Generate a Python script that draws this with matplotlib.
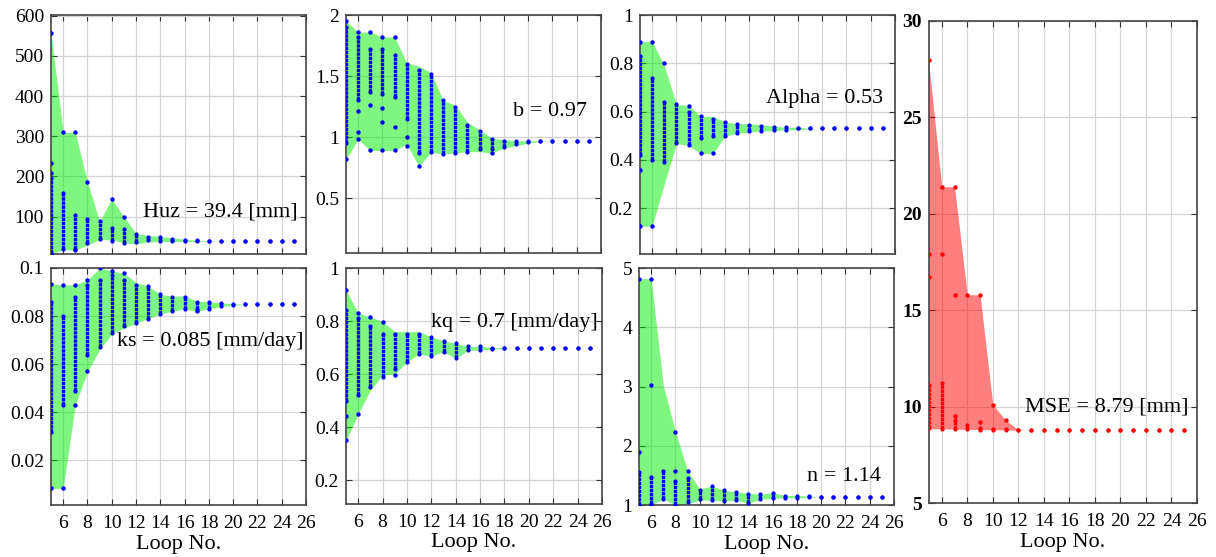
import numpy as np
import matplotlib.pyplot as plt

plt.rcParams['font.family'] = ['Liberation Serif', 'DejaVu Serif']

loops = list(range(5, 26))

# Huz [mm]
huz_hi = [558, 310, 310, 187, 88, 144, 100, 58, 53, 51, 47, 44, 41, 40, 40, 39.4,
          39.4, 39.4, 39.4, 39.4, 39.4]
huz_lo = [8, 17, 17, 29, 43, 42, 35, 32, 37, 38, 38, 38, 38, 39, 39, 39.4,
          39.4, 39.4, 39.4, 39.4, 39.4]
huz_col_hi = [195, 160, 105, 93, 88, 72, 68, 58, 50, 49, 44, 42, 41, 40, 39.4, 39.4,
              39.4, 39.4, 39.4, 39.4, 39.4]
huz_col_lo = [10, 20, 20, 35, 45, 40, 35, 36, 42, 40, 40, 39, 39, 39.4, 39.4, 39.4,
              39.4, 39.4, 39.4, 39.4, 39.4]
huz_px = [5, 5, 5, 5, 6, 7, 7, 8, 10, 11]
huz_py = [558, 233, 208, 8, 310, 310, 17, 187, 144, 100]

# b
b_hi = [1.95, 1.86, 1.86, 1.82, 1.82, 1.61, 1.58, 1.53, 1.30, 1.26, 1.12, 1.06, 0.99,
        0.98, 0.97, 0.97, 0.97, 0.97, 0.97, 0.97, 0.97]
b_lo = [0.82, 0.98, 0.89, 0.89, 0.89, 0.94, 0.76, 0.875, 0.86, 0.87, 0.88, 0.88, 0.87,
        0.91, 0.93, 0.95, 0.965, 0.97, 0.97, 0.97, 0.97]
b_col_hi = [1.90, 1.82, 1.72, 1.72, 1.67, 1.60, 1.55, 1.52, 1.30, 1.25, 1.10, 1.05, 0.98,
            0.97, 0.97, 0.97, 0.97, 0.97, 0.97, 0.97, 0.97]
b_col_lo = [0.95, 1.30, 1.37, 1.35, 1.33, 1.15, 0.87, 0.88, 0.86, 0.87, 0.88, 0.90, 0.90,
            0.92, 0.94, 0.96, 0.97, 0.97, 0.97, 0.97, 0.97]
b_px = [5, 5, 6, 6, 6, 6, 7, 7, 7, 8, 8, 8, 8, 9, 9, 9, 10, 10, 11, 17]
b_py = [1.95, 0.82, 1.86, 1.21, 1.04, 0.98, 1.86, 1.26, 0.89, 1.82, 1.24, 1.12, 0.89,
        1.82, 1.08, 0.89, 1.0, 0.93, 0.76, 0.87]

# Alpha
alpha_hi = [0.89, 0.89, 0.79, 0.63, 0.625, 0.58, 0.58, 0.557, 0.55, 0.55, 0.545, 0.54,
            0.535, 0.535, 0.53, 0.53, 0.53, 0.53, 0.53, 0.53, 0.53]
alpha_lo = [0.125, 0.125, 0.30, 0.467, 0.46, 0.426, 0.426, 0.498, 0.51, 0.515, 0.52, 0.52,
            0.525, 0.525, 0.528, 0.53, 0.53, 0.53, 0.53, 0.53, 0.53]
alpha_col_hi = [0.83, 0.74, 0.64, 0.63, 0.60, 0.58, 0.57, 0.557, 0.55, 0.545, 0.54, 0.535,
                0.535, 0.53, 0.53, 0.53, 0.53, 0.53, 0.53, 0.53, 0.53]
alpha_col_lo = [0.42, 0.40, 0.39, 0.47, 0.46, 0.49, 0.50, 0.50, 0.51, 0.52, 0.52, 0.525,
                0.525, 0.53, 0.53, 0.53, 0.53, 0.53, 0.53, 0.53, 0.53]
alpha_px = [5, 5, 5, 6, 6, 7, 9, 10, 11]
alpha_py = [0.89, 0.36, 0.125, 0.89, 0.125, 0.80, 0.625, 0.43, 0.43]

# ks [mm/day]
ks_hi = [0.0935, 0.093, 0.093, 0.095, 0.0999, 0.0988, 0.0978, 0.094, 0.0925, 0.089, 0.0883,
         0.0885, 0.0862, 0.086, 0.0855, 0.0852, 0.085, 0.085, 0.085, 0.085, 0.085]
ks_lo = [0.0084, 0.0084, 0.043, 0.057, 0.066, 0.0726, 0.075, 0.077, 0.079, 0.081, 0.082,
         0.083, 0.082, 0.083, 0.084, 0.0845, 0.085, 0.085, 0.085, 0.085, 0.085]
ks_col_hi = [0.086, 0.080, 0.088, 0.093, 0.095, 0.097, 0.095, 0.093, 0.0925, 0.089, 0.088,
             0.088, 0.086, 0.086, 0.0855, 0.085, 0.085, 0.085, 0.085, 0.085, 0.085]
ks_col_lo = [0.032, 0.043, 0.049, 0.064, 0.067, 0.073, 0.076, 0.077, 0.079, 0.081, 0.082,
             0.083, 0.083, 0.083, 0.084, 0.0845, 0.085, 0.085, 0.085, 0.085, 0.085]
ks_px = [5, 5, 6, 6, 7, 7, 8, 8, 9, 10, 11, 17]
ks_py = [0.0935, 0.0084, 0.093, 0.0084, 0.093, 0.043, 0.095, 0.057, 0.0999, 0.0988,
         0.0978, 0.082]

# kq [mm/day]
kq_hi = [0.917, 0.83, 0.816, 0.797, 0.76, 0.76, 0.76, 0.74, 0.726, 0.716, 0.705, 0.705,
         0.70, 0.70, 0.70, 0.70, 0.70, 0.70, 0.70, 0.70, 0.70]
kq_lo = [0.35, 0.449, 0.54, 0.596, 0.60, 0.647, 0.675, 0.668, 0.684, 0.659, 0.69, 0.69,
         0.694, 0.697, 0.70, 0.70, 0.70, 0.70, 0.70, 0.70, 0.70]
kq_col_hi = [0.84, 0.81, 0.78, 0.75, 0.75, 0.75, 0.75, 0.74, 0.726, 0.716, 0.705, 0.705,
             0.70, 0.70, 0.70, 0.70, 0.70, 0.70, 0.70, 0.70, 0.70]
kq_col_lo = [0.50, 0.52, 0.55, 0.59, 0.62, 0.647, 0.675, 0.668, 0.684, 0.66, 0.69, 0.69,
             0.694, 0.70, 0.70, 0.70, 0.70, 0.70, 0.70, 0.70, 0.70]
kq_px = [5, 5, 5, 6, 6, 7, 8, 9]
kq_py = [0.917, 0.44, 0.35, 0.83, 0.449, 0.816, 0.797, 0.596]

# n
n_hi = [4.82, 4.82, 3.02, 2.24, 1.58, 1.27, 1.32, 1.25, 1.22, 1.20, 1.18, 1.21, 1.16, 1.16,
        1.15, 1.14, 1.14, 1.14, 1.14, 1.14, 1.14]
n_lo = [1.0, 1.0, 1.1, 1.0, 1.02, 1.08, 1.08, 1.07, 1.08, 1.03, 1.10, 1.11, 1.12, 1.12,
        1.13, 1.14, 1.14, 1.14, 1.14, 1.14, 1.14]
n_col_hi = [1.55, 1.48, 1.58, 1.40, 1.45, 1.26, 1.32, 1.25, 1.22, 1.19, 1.18, 1.20, 1.16,
            1.16, 1.15, 1.14, 1.14, 1.14, 1.14, 1.14, 1.14]
n_col_lo = [1.0, 1.02, 1.10, 1.0, 1.05, 1.10, 1.08, 1.07, 1.08, 1.03, 1.10, 1.11, 1.12,
            1.12, 1.13, 1.14, 1.14, 1.14, 1.14, 1.14, 1.14]
n_px = [5, 5, 6, 6, 6, 8, 8, 9]
n_py = [4.82, 1.90, 4.82, 3.02, 1.0, 2.24, 1.58, 1.58]

# MSE [mm]
mse_hi = [27.7, 21.4, 21.4, 15.8, 15.8, 10.1, 9.3, 8.8, 8.79, 8.79, 8.79, 8.79, 8.79, 8.79,
          8.79, 8.79, 8.79, 8.79, 8.79, 8.79, 8.79]
mse_lo = [8.85, 8.85, 8.83, 8.82, 8.80, 8.80, 8.79, 8.78, 8.79, 8.79, 8.79, 8.79, 8.79,
          8.79, 8.79, 8.79, 8.79, 8.79, 8.79, 8.79, 8.79]
mse_col_hi = [11.1, 11.2, 9.3, 9.05, 8.9, 8.85, 8.85, 8.79, 8.79, 8.79, 8.79, 8.79, 8.79,
              8.79, 8.79, 8.79, 8.79, 8.79, 8.79, 8.79, 8.79]
mse_col_lo = [8.88, 8.85, 8.85, 8.85, 8.80, 8.80, 8.80, 8.79, 8.79, 8.79, 8.79, 8.79, 8.79,
              8.79, 8.79, 8.79, 8.79, 8.79, 8.79, 8.79, 8.79]
mse_px = [5, 5, 5, 6, 6, 7, 7, 7, 8, 9, 9, 10, 11]
mse_py = [28.0, 17.9, 16.7, 21.4, 17.9, 21.4, 15.8, 9.5, 15.8, 15.8, 9.2, 10.1, 9.3]

W, H = 1216, 557


def box(x0, y0, x1, y1):
    # pixel box -> figure fraction
    return [x0 / W, 1 - y1 / H, (x1 - x0) / W, (y1 - y0) / H]


def draw_panel(ax, lo, hi, col_lo, col_hi, px, py, label, lxy, ylim, yticks, yticklabels,
               fill='#00ee00', dot='#0000ff', xlabels=False, bold=False):
    ax.fill_between(loops, lo, hi, color=fill, alpha=0.5, lw=0, zorder=1)
    # dense stacks of points drawn as dotted columns
    ax.vlines(loops, col_lo, col_hi, colors=dot, lw=2.4, linestyles=[(0, (1.0, 0.22))],
              capstyle='butt', zorder=3)
    ax.scatter(loops, col_hi, s=9, color=dot, lw=0, zorder=4)
    ax.scatter(loops, col_lo, s=9, color=dot, lw=0, zorder=4)
    ax.scatter(px, py, s=10, color=dot, lw=0, zorder=4)
    ax.set_xlim(5, 26)
    ax.set_ylim(*ylim)
    ax.set_xticks(range(6, 27, 2))
    ax.set_yticks(yticks)
    ax.set_yticklabels(yticklabels, fontsize=14, fontweight='bold' if bold else 'normal')
    if xlabels:
        ax.set_xticklabels([str(v) for v in range(6, 27, 2)], fontsize=14)
        ax.set_xlabel('Loop No.', fontsize=16, labelpad=2)
    else:
        ax.set_xticklabels([])
    ax.tick_params(direction='in', top=True, right=True, length=4, width=0.8,
                   color='#333333')
    ax.tick_params(axis='x', pad=7)
    ax.tick_params(axis='y', pad=5)
    ax.grid(True, color='#d4d4d4', lw=0.9)
    ax.set_axisbelow(True)
    for s in ax.spines.values():
        s.set_color('#444444')
        s.set_linewidth(1.2)
    ax.text(lxy[0], lxy[1], label, fontsize=16, ha='right', va='center', zorder=5)


fig = plt.figure(figsize=(W / 100, H / 100), dpi=100)

ax1 = fig.add_axes(box(51, 15, 306, 254))
draw_panel(ax1, huz_lo, huz_hi, huz_col_lo, huz_col_hi, huz_px, huz_py,
           'Huz = 39.4 [mm]', (25.3, 112), (7, 602),
           [100, 200, 300, 400, 500, 600], ['100', '200', '300', '400', '500', '600'])

ax2 = fig.add_axes(box(346, 15, 601, 253))
draw_panel(ax2, b_lo, b_hi, b_col_lo, b_col_hi, b_px, b_py,
           'b = 0.97', (24.85, 1.21), (0.05, 2),
           [0.5, 1, 1.5, 2], ['0.5', '1', '1.5', '2'])

ax3 = fig.add_axes(box(640, 15, 895, 254))
draw_panel(ax3, alpha_lo, alpha_hi, alpha_col_lo, alpha_col_hi, alpha_px, alpha_py,
           'Alpha = 0.53', (25.0, 0.653), (0.01, 1),
           [0.2, 0.4, 0.6, 0.8, 1], ['0.2', '0.4', '0.6', '0.8', '1'])

ax4 = fig.add_axes(box(51, 268, 306, 505))
draw_panel(ax4, ks_lo, ks_hi, ks_col_lo, ks_col_hi, ks_px, ks_py,
           'ks = 0.085 [mm/day]', (25.76, 0.0696), (0.0015, 0.1),
           [0.02, 0.04, 0.06, 0.08, 0.1], ['0.02', '0.04', '0.06', '0.08', '0.1'],
           xlabels=True)

ax5 = fig.add_axes(box(346, 268, 602, 504))
draw_panel(ax5, kq_lo, kq_hi, kq_col_lo, kq_col_hi, kq_px, kq_py,
           'kq = 0.7 [mm/day]', (25.67, 0.794), (0.11, 1),
           [0.2, 0.4, 0.6, 0.8, 1], ['0.2', '0.4', '0.6', '0.8', '1'], xlabels=True)

ax6 = fig.add_axes(box(639, 268, 894, 505))
draw_panel(ax6, n_lo, n_hi, n_col_lo, n_col_hi, n_px, n_py,
           'n = 1.14', (24.93, 1.48), (1, 5),
           [1, 2, 3, 4, 5], ['1', '2', '3', '4', '5'], xlabels=True)

ax7 = fig.add_axes(box(929, 21, 1197, 503))
draw_panel(ax7, mse_lo, mse_hi, mse_col_lo, mse_col_hi, mse_px, mse_py,
           'MSE = 8.79 [mm]', (25.3, 10.0), (5, 30),
           [5, 10, 15, 20, 25, 30], ['5', '10', '15', '20', '25', '30'],
           fill='#ff0000', dot='#ff0000', xlabels=True, bold=True)

plt.savefig('out.png', dpi=100)
